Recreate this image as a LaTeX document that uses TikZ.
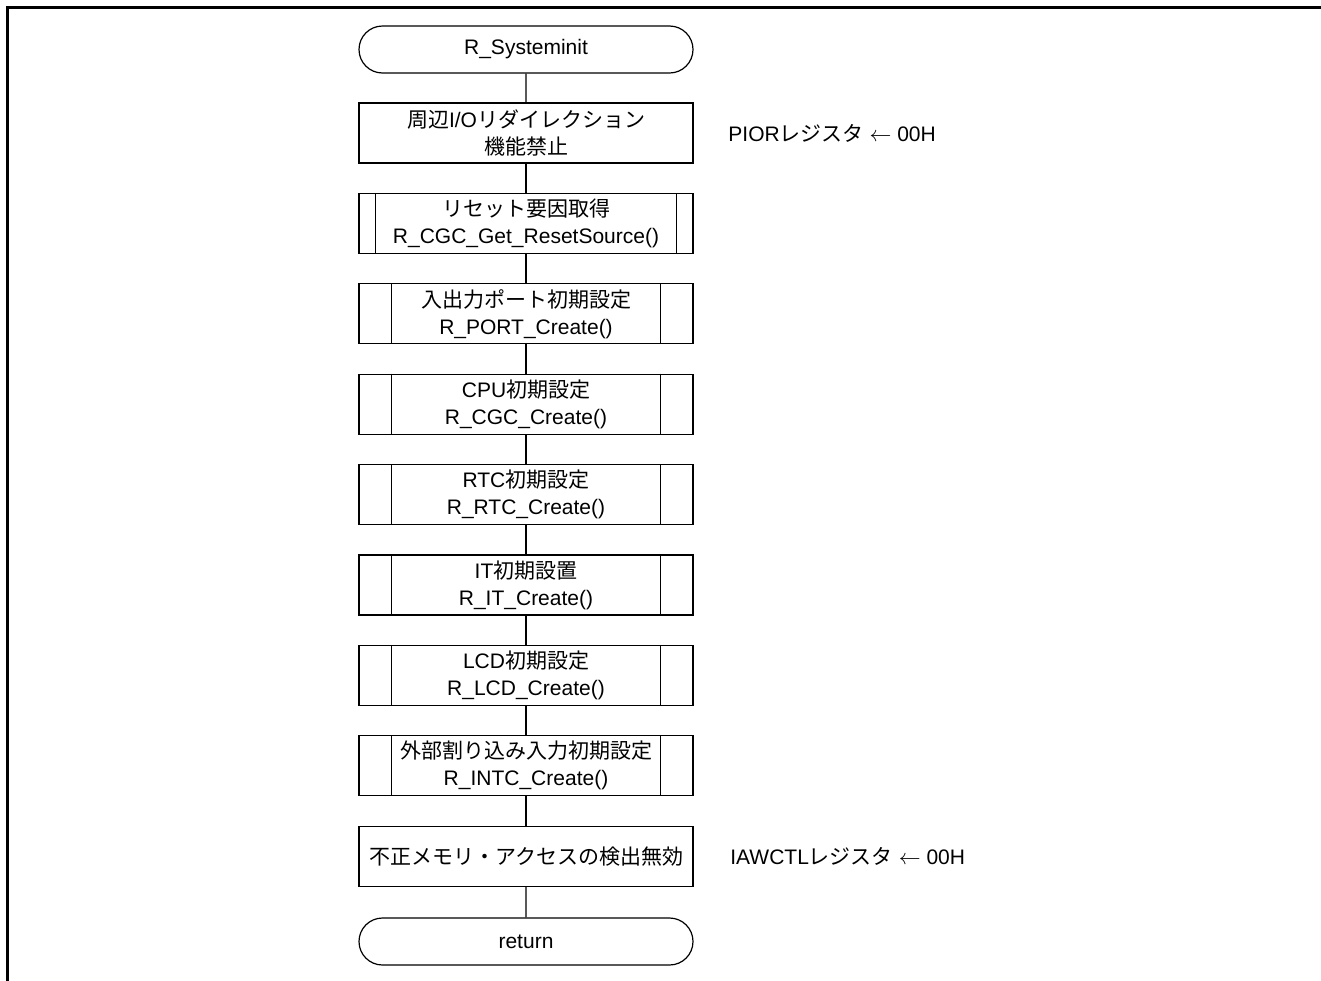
\documentclass[tikz,border=0pt]{standalone}
\usepackage{fontspec}
\setmainfont{Liberation Sans}
\newfontfamily\jp{Noto Sans CJK JP}
\usepackage{tikz}
\usetikzlibrary{shapes.misc}

\tikzset{
  base/.style={draw, line width=0.6pt, minimum width=167pt, align=center,
               inner sep=0pt, font=\fontsize{10.5}{13.5}\selectfont},
  term/.style={base, rounded rectangle, minimum height=23.5pt},
  proc/.style={base, rectangle, minimum height=30pt},
  note/.style={anchor=west, inner sep=0pt, font=\fontsize{10.5}{13.5}\selectfont},
  wire/.style={line width=0.6pt},
}

\begin{document}
\begin{tikzpicture}[x=0.5pt, y=-0.5pt]
  \useasboundingbox (0,0) rectangle (1321,980);
  % 外枠
  \draw[line width=1.5pt] (7.5,995) -- (7.5,7.5) -- (1335,7.5);

  % 端子と処理
  \node[term] (start) at (526,49.5) {R\_Systeminit};
  \node[proc] (io)   at (526,133)   {{\jp 周辺}I/O{\jp リダイレクション}\\{\jp 機能禁止}};
  \node[proc] (rst)  at (526,223.4) {{\jp リセット要因取得}\\R\_CGC\_Get\_ResetSource()};
  \node[proc] (port) at (526,313.8) {{\jp 入出力ポート初期設定}\\R\_PORT\_Create()};
  \node[proc] (cpu)  at (526,404.2) {CPU{\jp 初期設定}\\R\_CGC\_Create()};
  \node[proc] (rtc)  at (526,494.6) {RTC{\jp 初期設定}\\R\_RTC\_Create()};
  \node[proc] (it)   at (526,585)   {IT{\jp 初期設置}\\R\_IT\_Create()};
  \node[proc] (lcd)  at (526,675.4) {LCD{\jp 初期設定}\\R\_LCD\_Create()};
  \node[proc] (intc) at (526,765.8) {{\jp 外部割り込み入力初期設定}\\R\_INTC\_Create()};
  \node[proc] (iaw)  at (526,856.2) {{\jp 不正メモリ・アクセスの検出無効}};
  \node[term] (ret)  at (526,941.5) {return};

  % 定義済み処理の縦線
  \foreach \n/\d in {rst/8.5pt, port/16.5pt, cpu/16.5pt, rtc/16.5pt, it/16.5pt, lcd/16.5pt, intc/16.5pt} {
    \draw[wire] ([xshift=\d]\n.north west) -- ([xshift=\d]\n.south west);
    \draw[wire] ([xshift=-\d]\n.north east) -- ([xshift=-\d]\n.south east);
  }

  % 接続線
  \foreach \a/\b in {start/io, io/rst, rst/port, port/cpu, cpu/rtc, rtc/it, it/lcd, lcd/intc, intc/iaw, iaw/ret}
    \draw[wire] (\a) -- (\b);

  % 注記
  \node[note] (pior) at (728,133)   {PIOR{\jp レジスタ} $\leftarrow$ 00H};
  \node[note] (iawctl) at (730,856.2) {IAWCTL{\jp レジスタ} $\leftarrow$ 00H};
\end{tikzpicture}
\end{document}
